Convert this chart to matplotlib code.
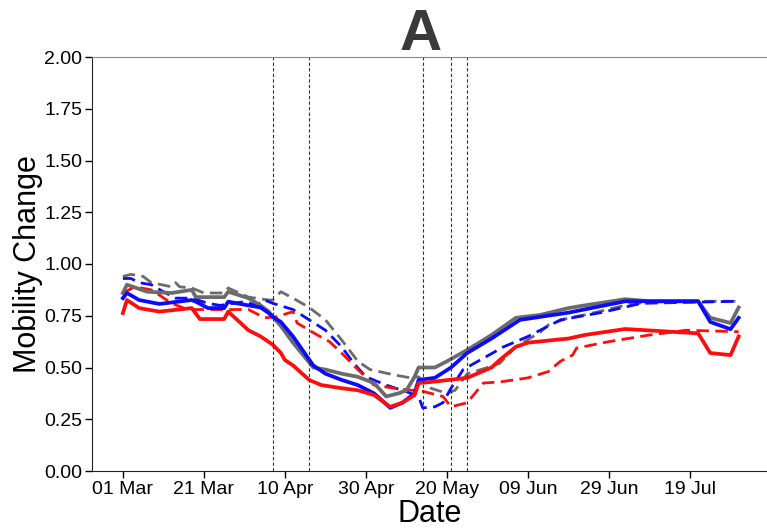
import numpy as np
import matplotlib
matplotlib.use("Agg")
import matplotlib.pyplot as plt
import matplotlib.dates as mdates

plt.rcParams['font.family'] = ['Liberation Sans', 'DejaVu Sans']

start = np.datetime64('2020-03-01')

# Day offsets from 01 Mar and values for each series
gray_solid_days = [0, 1, 6, 12, 17, 18, 25, 26, 31, 34, 36, 37, 39, 42, 47, 50, 54, 58, 62, 65, 68, 70, 72, 73, 77, 80, 85, 91, 97, 103, 110, 114, 124, 130, 142, 145, 150, 152]
gray_solid_vals = [0.86, 0.90, 0.866, 0.86, 0.875, 0.84, 0.84, 0.866, 0.835, 0.80, 0.77, 0.745, 0.70, 0.62, 0.50, 0.49, 0.47, 0.455, 0.425, 0.36, 0.375, 0.39, 0.455, 0.50, 0.50, 0.53, 0.585, 0.657, 0.74, 0.754, 0.787, 0.80, 0.83, 0.82, 0.82, 0.74, 0.715, 0.79]

blue_solid_days = [0, 1, 4, 9, 17, 18, 21, 25, 26, 31, 34, 36, 37, 39, 42, 47, 50, 54, 58, 62, 66, 69, 72, 73, 77, 81, 85, 91, 98, 110, 124, 142, 145, 150, 152]
blue_solid_vals = [0.835, 0.86, 0.826, 0.807, 0.826, 0.818, 0.787, 0.787, 0.818, 0.80, 0.79, 0.763, 0.745, 0.72, 0.65, 0.51, 0.47, 0.44, 0.415, 0.375, 0.305, 0.33, 0.375, 0.44, 0.45, 0.50, 0.57, 0.64, 0.73, 0.765, 0.82, 0.82, 0.72, 0.685, 0.74]

red_solid_days = [0, 1, 4, 9, 17, 19, 25, 26, 31, 34, 37, 39, 40, 42, 46, 49, 54, 58, 62, 66, 69, 72, 73, 76, 85, 91, 93, 97, 100, 110, 114, 124, 142, 145, 150, 152]
red_solid_vals = [0.763, 0.826, 0.787, 0.77, 0.787, 0.734, 0.734, 0.77, 0.68, 0.65, 0.61, 0.57, 0.536, 0.51, 0.44, 0.415, 0.40, 0.39, 0.367, 0.31, 0.33, 0.367, 0.425, 0.43, 0.45, 0.50, 0.536, 0.60, 0.62, 0.64, 0.657, 0.686, 0.665, 0.57, 0.56, 0.65]

gray_dashed_days = [0, 2, 5, 7, 12, 13, 14, 17, 20, 25, 26, 31, 36, 37, 39, 42, 46, 50, 54, 58, 61, 67, 71, 73, 76, 80, 82, 85, 90, 93, 97, 103, 105, 110, 114, 126, 134, 152]
gray_dashed_vals = [0.94, 0.95, 0.94, 0.91, 0.89, 0.91, 0.89, 0.884, 0.86, 0.86, 0.884, 0.84, 0.826, 0.826, 0.866, 0.835, 0.79, 0.73, 0.633, 0.53, 0.49, 0.464, 0.45, 0.455, 0.40, 0.375, 0.39, 0.47, 0.50, 0.52, 0.60, 0.67, 0.705, 0.74, 0.754, 0.81, 0.82, 0.82]

blue_dashed_days = [0, 2, 4, 7, 10, 13, 17, 21, 24, 30, 33, 35, 37, 42, 46, 50, 54, 57, 60, 65, 70, 73, 74, 77, 79, 81, 84, 89, 94, 100, 105, 108, 118, 128, 152]
blue_dashed_vals = [0.93, 0.93, 0.91, 0.90, 0.866, 0.835, 0.835, 0.81, 0.80, 0.818, 0.80, 0.826, 0.81, 0.78, 0.73, 0.68, 0.60, 0.52, 0.455, 0.415, 0.383, 0.36, 0.305, 0.31, 0.33, 0.40, 0.49, 0.545, 0.60, 0.65, 0.70, 0.73, 0.765, 0.81, 0.82]

red_dashed_days = [0, 3, 7, 9, 12, 16, 25, 31, 35, 38, 42, 43, 48, 51, 54, 58, 62, 67, 71, 73, 76, 79, 81, 85, 89, 93, 100, 105, 108, 111, 112, 120, 130, 139, 152]
red_dashed_vals = [0.86, 0.89, 0.875, 0.85, 0.81, 0.78, 0.78, 0.78, 0.74, 0.745, 0.77, 0.715, 0.657, 0.625, 0.57, 0.49, 0.415, 0.40, 0.39, 0.39, 0.375, 0.36, 0.31, 0.33, 0.425, 0.43, 0.45, 0.48, 0.53, 0.56, 0.594, 0.625, 0.657, 0.68, 0.673]

event_days = [37, 46, 74, 81, 85]
tick_days = [0, 20, 40, 60, 80, 100, 120, 140]
y_ticks = [0.0, 0.25, 0.5, 0.75, 1.0, 1.25, 1.5, 1.75, 2.0]


def to_dates(days):
    return (start + np.array(days, dtype='timedelta64[D]')).astype('datetime64[ms]').astype(object)


def to_date_hours(hours):
    return (start + np.timedelta64(int(hours), 'h')).astype('datetime64[ms]').astype(object)


fig = plt.figure(figsize=(7.67, 5.29), dpi=100)
ax = fig.add_axes([92 / 767, 1 - 471 / 529, 1 - 92 / 767, (471 - 57) / 529])

GRAY = '#6b6b6b'
BLUE = '#0a0aff'
RED = '#ff0d0d'

series = [
    (gray_dashed_days, gray_dashed_vals, GRAY, (0, (4.5, 2.3))),
    (blue_dashed_days, blue_dashed_vals, BLUE, (0, (4.5, 2.3))),
    (red_dashed_days, red_dashed_vals, RED, (0, (4.5, 2.3))),
    (gray_solid_days, gray_solid_vals, GRAY, '-'),
    (blue_solid_days, blue_solid_vals, BLUE, '-'),
    (red_solid_days, red_solid_vals, RED, '-'),
]
for d, v, c, ls in series:
    lw = 2.7 if ls == '-' else 2.0
    ax.plot(to_dates(d), v, color=c, linestyle=ls, linewidth=lw, solid_joinstyle='round')

for d in event_days:
    ax.axvline(to_dates([d])[0], color='#333333', linestyle=(0, (3, 2)), linewidth=0.8)

ax.set_ylim(0, 2.0)
ax.set_yticks(y_ticks)
ax.set_yticklabels([f"{t:.2f}" for t in y_ticks])
ax.set_xlim(to_date_hours(-7.65 * 24), to_date_hours(159 * 24))
ax.set_xticks(to_dates(tick_days))
ax.xaxis.set_major_formatter(mdates.DateFormatter('%d %b'))

ax.tick_params(axis='both', labelsize=14, direction='out', length=5, width=1, colors='black', pad=2)
ax.spines['right'].set_visible(False)
ax.spines['top'].set_color('#888888')
ax.spines['left'].set_color('#222222')
ax.spines['bottom'].set_color('#222222')

ax.set_xlabel('Date', fontsize=22, labelpad=1)
ax.set_ylabel('Mobility Change', fontsize=22, labelpad=1)
fig.text(421 / 767, 1 - 50 / 529, 'A', fontsize=42, fontweight='bold', color='#3a3a3a',
         ha='center', va='baseline')

fig.savefig('out.png', dpi=100)
